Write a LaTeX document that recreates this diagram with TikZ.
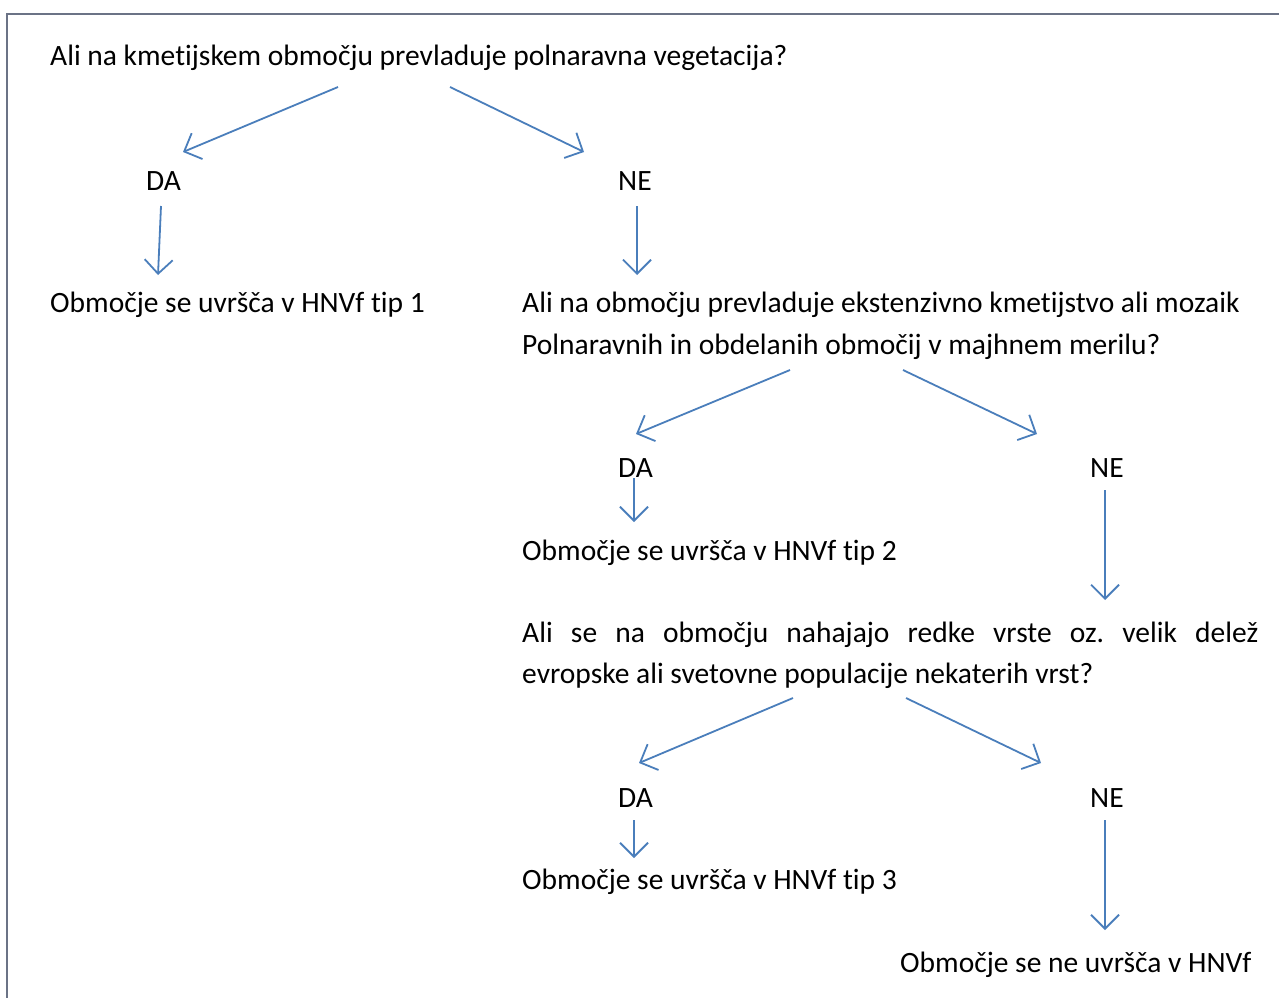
\documentclass[tikz,border=0pt]{standalone}
\usepackage{fontspec}
\setmainfont{Carlito}[Ligatures=NoCommon]
\usetikzlibrary{arrows.meta}
\definecolor{arrowblue}{HTML}{4A7EBB}
\definecolor{framegray}{HTML}{6B7386}
\tikzset{
  txt/.style={anchor=base west, inner sep=0pt, font=\fontsize{29.5}{42}\selectfont\frenchspacing},
  conn/.style={draw=arrowblue, line width=1.8pt, -{Straight Barb[length=14pt,width=28pt,line width=1.8pt]}},
}
\begin{document}
\begin{tikzpicture}[x=1pt,y=-1pt]
\useasboundingbox (0,0) rectangle (1279,997);
\draw[framegray, line width=2pt] (7,1000) -- (7,14) -- (1282,14);

\node[txt] (q1) at (50,65) {Ali na kmetijskem območju prevladuje polnaravna vegetacija?};
\node[txt] (da1) at (146,190) {DA};
\node[txt] (ne1) at (618,190) {NE};
\node[txt] (r1) at (50,312) {Območje se uvršča v HNVf tip 1};
\node[txt] (q2a) at (522,312) {Ali na območju prevladuje ekstenzivno kmetijstvo ali mozaik};
\node[txt] (q2b) at (522,354) {Polnaravnih in obdelanih območij v majhnem merilu?};
\node[txt] (da2) at (618,477) {DA};
\node[txt] (ne2) at (1090,477) {NE};
\node[txt] (r2) at (522,560) {Območje se uvršča v HNVf tip 2};
\node[txt] (q3a) at (522,642) {\makebox[736pt][s]{Ali se na območju nahajajo redke vrste oz. velik delež}};
\node[txt] (q3b) at (522,683) {evropske ali svetovne populacije nekaterih vrst?};
\node[txt] (da3) at (618,807) {DA};
\node[txt] (ne3) at (1090,807) {NE};
\node[txt] (r3) at (522,889) {Območje se uvršča v HNVf tip 3};
\node[txt] (r4) at (900,972) {Območje se ne uvršča v HNVf};

\coordinate (a1s) at (338,87);  \coordinate (a1e) at (183,152);
\coordinate (a2s) at (450,87);  \coordinate (a2e) at (584,152);
\coordinate (a3s) at (161,206); \coordinate (a3e) at (158,275);
\coordinate (a4s) at (637,206); \coordinate (a4e) at (637,275);
\coordinate (a5s) at (790,370); \coordinate (a5e) at (636,434);
\coordinate (a6s) at (903,370); \coordinate (a6e) at (1037,434);
\coordinate (a7s) at (634,478); \coordinate (a7e) at (634,522);
\coordinate (a8s) at (1105,490); \coordinate (a8e) at (1105,600);
\coordinate (a9s) at (793,698); \coordinate (a9e) at (639,763);
\coordinate (a10s) at (906,698); \coordinate (a10e) at (1041,763);
\coordinate (a11s) at (634,820); \coordinate (a11e) at (634,858);
\coordinate (a12s) at (1105,820); \coordinate (a12e) at (1105,930);

\foreach \i in {1,...,12} {\draw[conn] (a\i s) -- (a\i e);}
\end{tikzpicture}
\end{document}
